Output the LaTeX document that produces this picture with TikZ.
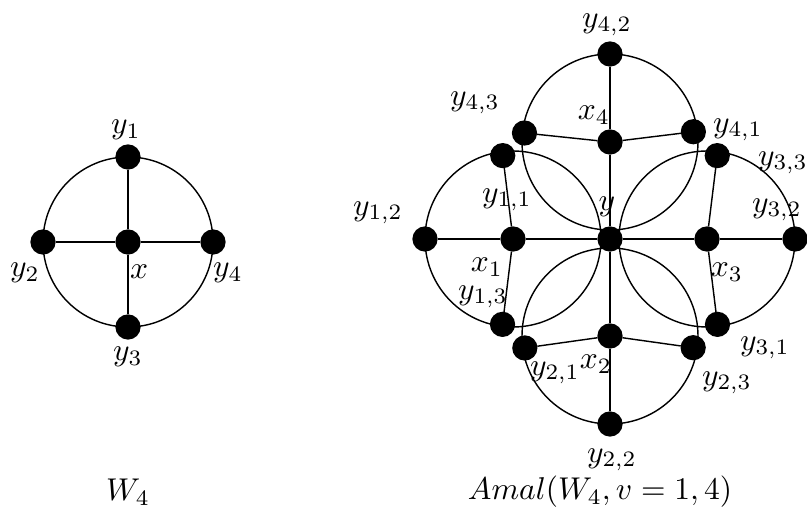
\documentclass[tikz,border=0pt]{standalone}
\usepackage{amsmath}
\usepackage{tikz}
\usetikzlibrary{calc}
\tikzset{
  vtx/.style  ={circle,fill=black,draw=black,inner sep=0pt,minimum size=7.6pt},
  edge/.style ={black,line width=0.45pt},
  rim/.style  ={black,line width=0.45pt},
  lbl/.style  ={inner sep=0pt},
  captxt/.style ={inner sep=0pt},
}

\begin{document}
\begin{tikzpicture}[x=0.3175pt,y=0.3175pt]
\useasboundingbox (0,0) rectangle (807,527);

% ── W4 ─────────────────────────────────────────────────────────────────────
\node[vtx] (x)  at (128,285) {};
\node[vtx] (y1) at ($(x)+(90:85)$)  {};
\node[vtx] (y2) at ($(x)+(180:85)$) {};
\node[vtx] (y3) at ($(x)+(270:85)$) {};
\node[vtx] (y4) at ($(x)+(0:85)$)   {};
\draw[rim] (x) circle (85);
\draw[edge] (y1) -- (x) -- (y3);
\draw[edge] (y2) -- (x) -- (y4);
\node[lbl] (ly1) at (126,397) {$y_1$};
\node[lbl] (ly2) at (25,254)  {$y_2$};
\node[lbl] (lx)  at (139,255) {$x$};
\node[lbl] (ly4) at (228,254) {$y_4$};
\node[lbl] (ly3) at (128,170) {$y_3$};
\node[captxt] (cw)  at (128,35)  {$W_4$};

% ── amalgamation ───────────────────────────────────────────────────────────
\node[vtx] (y)  at (610,288) {};
\node[vtx] (x1) at (513,288) {};
\node[vtx] (x2) at (610,191) {};
\node[vtx] (x3) at (707,288) {};
\node[vtx] (x4) at (610,385) {};
\node[vtx] (y11) at ($(x1)+(97:84)$)  {};
\node[vtx] (y12) at ($(x1)+(180:88)$) {};
\node[vtx] (y13) at ($(x1)+(263:86)$) {};
\node[vtx] (y21) at ($(x2)+(188:86)$) {};
\node[vtx] (y22) at ($(x2)+(270:88)$) {};
\node[vtx] (y23) at ($(x2)+(352:84)$) {};
\node[vtx] (y31) at ($(x3)+(277:86)$) {};
\node[vtx] (y32) at ($(x3)+(0:88)$)   {};
\node[vtx] (y33) at ($(x3)+(83:84)$)  {};
\node[vtx] (y41) at ($(x4)+(7:84)$)   {};
\node[vtx] (y42) at ($(x4)+(90:88)$)  {};
\node[vtx] (y43) at ($(x4)+(174:86)$) {};
\draw[rim] (x1) circle (88);
\draw[rim] (x2) circle (88);
\draw[rim] (x3) circle (88);
\draw[rim] (x4) circle (88);
\draw[edge] (y12) -- (x1) -- (y) -- (x3) -- (y32);
\draw[edge] (y42) -- (x4) -- (y) -- (x2) -- (y22);
\draw[edge] (y11) -- (x1) -- (y13);
\draw[edge] (y21) -- (x2) -- (y23);
\draw[edge] (y31) -- (x3) -- (y33);
\draw[edge] (y41) -- (x4) -- (y43);

\node[lbl] (ly42) at (607,502) {$y_{4,2}$};
\node[lbl] (ly43) at (475,424) {$y_{4,3}$};
\node[lbl] (lx4)  at (594,412) {$x_4$};
\node[lbl] (ly41) at (738,397) {$y_{4,1}$};
\node[lbl] (ly33) at (783,364) {$y_{3,3}$};
\node[lbl] (ly11) at (507,327) {$y_{1,1}$};
\node[lbl] (ly12) at (378,314) {$y_{1,2}$};
\node[lbl] (ly)   at (607,320) {$y$};
\node[lbl] (ly32) at (777,317) {$y_{3,2}$};
\node[lbl] (lx1)  at (487,260) {$x_1$};
\node[lbl] (lx3)  at (727,255) {$x_3$};
\node[lbl] (ly13) at (483,230) {$y_{1,3}$};
\node[lbl] (ly31) at (765,179) {$y_{3,1}$};
\node[lbl] (ly21) at (555,154) {$y_{2,1}$};
\node[lbl] (lx2)  at (596,163) {$x_2$};
\node[lbl] (ly23) at (727,144) {$y_{2,3}$};
\node[lbl] (ly22) at (612,67)  {$y_{2,2}$};
\node[captxt] (ca)   at (600,35)  {$Amal(W_4,v=1,4)$};
\end{tikzpicture}
\end{document}
